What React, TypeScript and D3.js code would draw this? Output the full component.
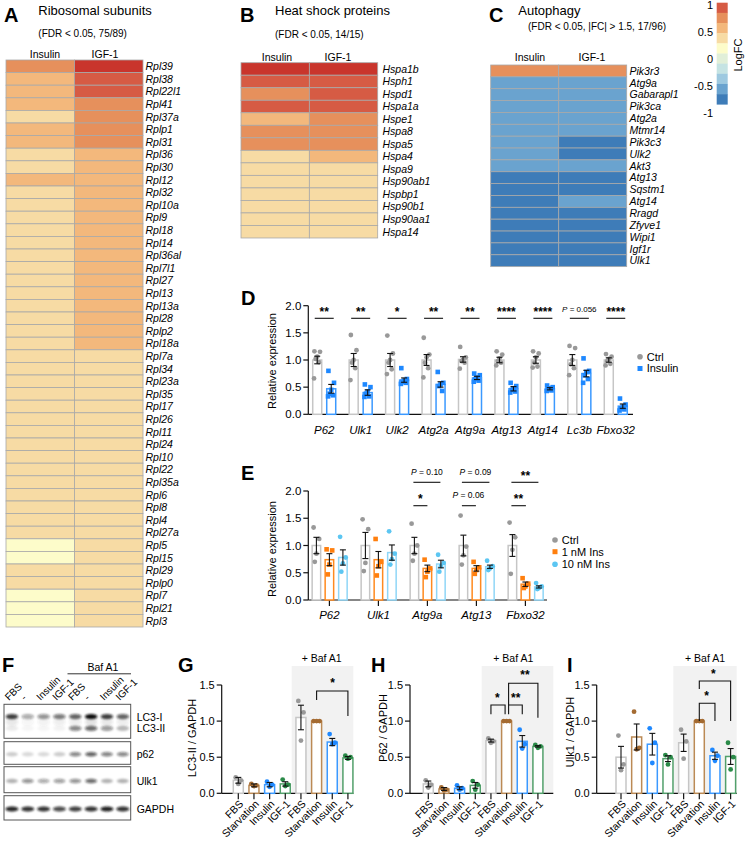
import React from "react";
import * as d3 from "d3";

const FONT = '"Liberation Sans", Arial, Helvetica, sans-serif';

// ---------------- Heatmap data (logFC) ----------------
const heatCols = ["Insulin", "IGF-1"];
const genesA = ["Rpl39","Rpl38","Rpl22l1","Rpl41","Rpl37a","Rplp1","Rpl31","Rpl36","Rpl30","Rpl12","Rpl32","Rpl10a","Rpl9","Rpl18","Rpl14","Rpl36al","Rpl7l1","Rpl27","Rpl13","Rpl13a","Rpl28","Rplp2","Rpl18a","Rpl7a","Rpl34","Rpl23a","Rpl35","Rpl17","Rpl26","Rpl11","Rpl24","Rpl10","Rpl22","Rpl35a","Rpl6","Rpl8","Rpl4","Rpl27a","Rpl5","Rpl15","Rpl29","Rplp0","Rpl7","Rpl21","Rpl3"];
const insulinA = [0.68,0.52,0.5,0.48,0.36,0.46,0.44,0.34,0.32,0.42, 0.32,0.3,0.3,0.28,0.3,0.28,0.26,0.3,0.28,0.26,0.28,0.26,0.3, 0.3,0.28,0.26,0.28,0.26,0.24,0.28,0.26,0.24,0.26,0.24,0.26,0.24,0.22,0.24, 0.16,0.18,0.24,0.22,0.16,0.14,0.18];
const igfA = [1.08,0.88,0.86,0.72,0.7,0.7,0.66,0.56,0.54,0.52, 0.52,0.5,0.5,0.48,0.5,0.46,0.48,0.46,0.46,0.44,0.44,0.42,0.42, 0.38,0.36,0.36,0.34,0.36,0.34,0.32,0.34,0.32,0.3,0.32,0.3,0.3,0.28,0.3, 0.28,0.26,0.3,0.28,0.26,0.24,0.26];

const genesB = ["Hspa1b","Hsph1","Hspd1","Hspa1a","Hspe1","Hspa8","Hspa5","Hspa4","Hspa9","Hsp90ab1","Hspbp1","Hsp90b1","Hsp90aa1","Hspa14"];
const insulinB = [1.12,0.88,0.72,0.9,0.55,0.7,0.68,0.34,0.32,0.3,0.28,0.3,0.26,0.24];
const igfB = [1.1,0.9,0.86,0.88,0.7,0.68,0.66,0.5,0.34,0.32,0.3,0.3,0.28,0.26];

const genesC = ["Pik3r3","Atg9a","Gabarapl1","Pik3ca","Atg2a","Mtmr14","Pik3c3","Ulk2","Akt3","Atg13","Sqstm1","Atg14","Rragd","Zfyve1","Wipi1","Igf1r","Ulk1"];
const insulinC = [0.7,-0.7,-0.68,-0.66,-0.7,-0.64,-0.66,-0.68,-0.7,-0.88,-0.9,-0.86,-0.92,-0.88,-0.9,-0.86,-0.9];
const igfC = [0.68,-0.66,-0.7,-0.68,-0.66,-0.7,-0.9,-0.88,-0.72,-0.9,-0.88,-0.7,-0.9,-0.92,-0.86,-0.88,-0.92];

const colorThresholds = [-0.8,-0.6,-0.4,-0.2,0,0.2,0.4,0.6,0.8,1.0];
const colorRange = ["#3e7cb8","#6aa3cf","#9ec9e0","#c5e3e3","#e1efd8","#fdfcca","#f7dba4","#f3b87c","#e6905c","#d65b44","#c9352c"];
const legendTicks = [1, 0.5, 0, -0.5, -1];

// ---------------- Panel D data ----------------
const genesD = ["P62","Ulk1","Ulk2","Atg2a","Atg9a","Atg13","Atg14","Lc3b","Fbxo32"];
const ctrlMeanD = [1.0,1.0,1.0,1.0,1.01,1.0,1.0,1.0,1.0];
const ctrlSemD = [0.07,0.12,0.12,0.1,0.05,0.05,0.06,0.1,0.04];
const insMeanD = [0.47,0.4,0.63,0.55,0.67,0.47,0.47,0.75,0.15];
const insSemD = [0.08,0.05,0.04,0.05,0.03,0.04,0.02,0.06,0.04];
const ctrlPtsD = [
  [1.16,1.15,1.06,1.02,0.96,0.66],
  [1.46,1.18,1.0,0.95,0.85,0.63],
  [1.45,1.12,1.0,0.95,0.83,0.74],
  [1.41,1.1,1.05,0.95,0.85,0.68],
  [1.24,1.05,1.0,0.98,0.95,0.84],
  [1.16,1.1,1.03,0.98,0.95,0.9],
  [1.16,1.12,1.05,0.95,0.88,0.86],
  [1.26,1.22,1.0,0.92,0.85,0.72],
  [1.11,1.06,1.02,0.98,0.93,0.9],
];
const insPtsD = [
  [0.8,0.58,0.45,0.38,0.35,0.33],
  [0.55,0.5,0.42,0.38,0.33,0.32],
  [0.85,0.65,0.62,0.6,0.58,0.56],
  [0.78,0.58,0.55,0.52,0.43],
  [0.75,0.72,0.68,0.65,0.62,0.6],
  [0.58,0.52,0.48,0.45,0.42,0.4],
  [0.53,0.5,0.48,0.46,0.44,0.43],
  [1.03,0.8,0.78,0.72,0.65,0.58],
  [0.29,0.18,0.14,0.11,0.09,0.07],
];
const sigD = ["**","**","*","**","**","****","****","P = 0.056","****"];
const yTicksD = [0, 0.5, 1, 1.5, 2];

// ---------------- Panel E data ----------------
const genesE = ["P62","Ulk1","Atg9a","Atg13","Fbxo32"];
const ctrlMeanE = [1.0,1.0,1.0,1.0,1.0];
const ctrlSemE = [0.15,0.24,0.15,0.19,0.2];
const ins1MeanE = [0.74,0.74,0.58,0.58,0.29];
const ins1SemE = [0.11,0.15,0.06,0.05,0.04];
const ins10MeanE = [0.78,0.87,0.66,0.61,0.24];
const ins10SemE = [0.14,0.14,0.07,0.03,0.02];
const ctrlPtsE = [[1.33,1.12,0.85,0.7],[1.48,1.3,0.68,0.53],[1.4,1.0,0.85,0.72],[1.55,0.98,0.82,0.65],[1.42,1.15,0.92,0.48]];
const ins1PtsE = [[0.93,0.91,0.65,0.47],[1.12,0.7,0.62,0.45],[0.74,0.58,0.52,0.42],[0.7,0.6,0.55,0.48],[0.4,0.3,0.25,0.22]];
const ins10PtsE = [[1.16,0.78,0.67,0.52],[1.26,0.85,0.75,0.65],[0.83,0.68,0.62,0.52],[0.72,0.62,0.58,0.55],[0.31,0.25,0.22,0.2]];

// ---------------- Panels G, H, I data ----------------
const conditions = ["FBS","Starvation","Insulin","IGF-1","FBS","Starvation","Insulin","IGF-1"];
const meanG = [0.18,0.11,0.12,0.13,1.05,1.0,0.71,0.49];
const semG = [0.04,0.02,0.03,0.03,0.17,0,0.05,0.02];
const ptsG = [[0.22,0.18,0.13],[0.13,0.11,0.1],[0.16,0.12,0.09],[0.19,0.12,0.1],[1.28,1.12,0.73],[1.0,1.0,1.0],[0.82,0.7,0.68],[0.52,0.5,0.48]];
const meanH = [0.13,0.06,0.07,0.11,0.73,1.0,0.72,0.65];
const semH = [0.04,0.02,0.02,0.04,0.02,0,0.08,0.01];
const ptsH = [[0.18,0.12,0.08],[0.08,0.05,0.04],[0.11,0.07,0.05],[0.17,0.12,0.05],[0.76,0.72,0.7],[1.0,1.0,1.0],[0.88,0.68,0.62],[0.67,0.65,0.63]];
const meanI = [0.5,0.78,0.68,0.48,0.7,1.0,0.52,0.51];
const semI = [0.15,0.18,0.15,0.04,0.12,0,0.05,0.11];
const ptsI = [[0.8,0.4,0.32],[1.13,0.63,0.61],[0.9,0.7,0.42],[0.53,0.5,0.4],[0.88,0.72,0.48],[1.0,1.0,1.0],[0.6,0.52,0.45],[0.7,0.5,0.33]];
const yTicksG = [0, 0.5, 1, 1.5];

// ---------------- Panel F (western blot) data ----------------
const laneLabels = ["FBS","-","Insulin","IGF-1","FBS","-","Insulin","IGF-1"];
const lc3I = [0.8,0.35,0.45,0.55,0.65,1.0,0.8,0.65];
const lc3II = [0.08,0.04,0.04,0.05,0.5,0.62,0.42,0.28];
const p62Band = [0.2,0.15,0.15,0.2,0.5,0.65,0.52,0.5];
const ulk1Band = [0.3,0.45,0.35,0.4,0.45,0.62,0.3,0.3];
const gapdhBand = [0.9,0.85,0.85,0.75,0.8,0.85,0.92,0.85];

const heatColor = d3.scaleThreshold<number, string>().domain(colorThresholds).range(colorRange);

const C = {
  ctrlBar: "#c6c6c6", ctrlPt: "#999999",
  insBar: "#3b99ff", insPt: "#1e88ff",
  ins1Bar: "#ff8a1f", ins1Pt: "#ff7f0e",
  ins10Bar: "#8fd6f7", ins10Pt: "#5cc6f2",
  starvBar: "#bb8a55", starvPt: "#a46b32",
  igfBar: "#52a06b", igfPt: "#2a8a48",
};
const condBar = [C.ctrlBar, C.starvBar, C.insBar, C.igfBar, C.ctrlBar, C.starvBar, C.insBar, C.igfBar];
const condPt = [C.ctrlPt, C.starvPt, C.insPt, C.igfPt, C.ctrlPt, C.starvPt, C.insPt, C.igfPt];

function Heatmap({ genes, ins, igf, left, right, top, rowH, labelX, headerX, headerY }: any) {
  const x = d3.scaleBand().domain(heatCols).range([left, right]);
  const y = d3.scaleBand().domain(genes).range([top, top + genes.length * rowH]);
  const vals = [ins, igf];
  return (
    <g>
      {heatCols.map((c, ci) => (
        <text key={c} x={headerX[ci]} y={headerY} textAnchor="middle" fontSize={10.5}>{c}</text>
      ))}
      {genes.map((g: string, gi: number) => (
        <g key={g}>
          {heatCols.map((c, ci) => (
            <rect key={c} x={x(c)} y={y(g)} width={x.bandwidth()} height={y.bandwidth()}
              fill={heatColor(vals[ci][gi])} stroke="#a9a9a9" strokeWidth={0.8} />
          ))}
          <text x={labelX} y={(y(g) as number) + y.bandwidth() / 2 + 3.8} fontSize={10.5} fontStyle="italic">{g}</text>
        </g>
      ))}
    </g>
  );
}

const offs6 = [-2.8, 2.8, 0, -1.6, 1.6, -3.2];
const offs3 = [-2.6, 2.6, 0];

function BarGroup({ cx, w, mean, sem, pts, y, stroke, pt, shape, cap = 3 }: any) {
  const y0 = y(0), ym = y(mean);
  const offs = pts.length <= 3 ? (mean === 1 && sem === 0 ? [-3, 0, 3] : offs3) : offs6;
  return (
    <g>
      <rect x={cx - w / 2} y={ym} width={w} height={y0 - ym} fill="white" stroke={stroke} strokeWidth={1.5} />
      {pts.map((v: number, i: number) =>
        shape === "square" ? (
          <rect key={i} x={cx + offs[i] - 2.3} y={y(v) - 2.3} width={4.6} height={4.6} fill={pt} />
        ) : (
          <circle key={i} cx={cx + offs[i]} cy={y(v)} r={2.4} fill={pt} />
        )
      )}
      {sem > 0 && (
        <g stroke="#111" strokeWidth={1.1}>
          <line x1={cx} x2={cx} y1={y(mean - sem)} y2={y(mean + sem)} />
          <line x1={cx - cap} x2={cx + cap} y1={y(mean - sem)} y2={y(mean - sem)} />
          <line x1={cx - cap} x2={cx + cap} y1={y(mean + sem)} y2={y(mean + sem)} />
        </g>
      )}
    </g>
  );
}

function YAxis({ x, y, ticks, fontSize = 11.5 }: any) {
  const fmt = d3.format(".1f");
  const [d0, d1] = y.domain();
  return (
    <g>
      <line x1={x} x2={x} y1={y(d0)} y2={y(d1)} stroke="#111" strokeWidth={1.2} />
      {ticks.map((t: number) => (
        <g key={t}>
          <line x1={x - 5} x2={x} y1={y(t)} y2={y(t)} stroke="#111" strokeWidth={1.2} />
          <text x={x - 7} y={y(t) + 4} textAnchor="end" fontSize={fontSize}>{fmt(t)}</text>
        </g>
      ))}
    </g>
  );
}

function Star({ x, cy, text, size = 12 }: any) {
  return <text x={x} y={cy + size * 0.55} textAnchor="middle" fontSize={size} fontWeight="bold">{text}</text>;
}

function PText({ x, cy, value, size = 8.5 }: any) {
  return (
    <text x={x} y={cy + 3} textAnchor="middle" fontSize={size}>
      <tspan fontStyle="italic">P</tspan> = {value}
    </text>
  );
}

function PanelD() {
  const x = d3.scaleBand().domain(genesD).range([306, 634]);
  const y = d3.scaleLinear().domain([0, 2]).range([414.3, 305.7]);
  const bw = x.bandwidth();
  return (
    <g>
      <YAxis x={308.3} y={y} ticks={yTicksD} />
      <line x1={308.3} x2={633} y1={y(0)} y2={y(0)} stroke="#111" strokeWidth={1.2} />
      <text transform="translate(275.5,361) rotate(-90)" textAnchor="middle" fontSize={11}>Relative expression</text>
      {genesD.map((g, i) => {
        const c = (x(g) as number) + bw / 2;
        return (
          <g key={g}>
            <BarGroup cx={c - 7} w={9} mean={ctrlMeanD[i]} sem={ctrlSemD[i]} pts={ctrlPtsD[i]} y={y} stroke={C.ctrlBar} pt={C.ctrlPt} shape="circle" />
            <BarGroup cx={c + 7} w={9} mean={insMeanD[i]} sem={insSemD[i]} pts={insPtsD[i]} y={y} stroke={C.insBar} pt={C.insPt} shape="square" />
            <text x={c} y={434} textAnchor="middle" fontSize={11.5} fontStyle="italic">{g}</text>
            <line x1={c - 9.5} x2={c + 9.5} y1={318.3} y2={318.3} stroke="#111" strokeWidth={1.1} />
            {sigD[i].startsWith("P") ? (
              <PText x={c} cy={309} value="0.056" size={8} />
            ) : (
              <Star x={c} cy={309} text={sigD[i]} />
            )}
          </g>
        );
      })}
      <circle cx={640} cy={356.7} r={2.8} fill={C.ctrlPt} />
      <text x={646.7} y={360.6} fontSize={11}>Ctrl</text>
      <rect x={637.5} y={366} width={5} height={5} fill={C.insPt} />
      <text x={646.7} y={372.3} fontSize={11}>Insulin</text>
    </g>
  );
}

function PanelE() {
  const x = d3.scaleBand().domain(genesE).range([304.9, 549.9]);
  const y = d3.scaleLinear().domain([0, 2]).range([600, 491]);
  const bw = x.bandwidth();
  const cen = (g: string) => (x(g) as number) + bw / 2;
  const a = cen("Atg9a"), b = cen("Atg13"), f = cen("Fbxo32");
  const sigLines = [
    [a - 14, a, 505.7], [a - 14, a + 13, 482.3],
    [b - 14.5, b - 0.5, 505.7], [b - 14.5, b + 13, 482.3],
    [f - 14, f + 0.5, 505.7], [f - 14, f + 13, 482.3],
  ];
  return (
    <g>
      <YAxis x={308.3} y={y} ticks={yTicksD} />
      <line x1={308.3} x2={547} y1={y(0)} y2={y(0)} stroke="#111" strokeWidth={1.2} />
      <text transform="translate(275.5,549) rotate(-90)" textAnchor="middle" fontSize={11}>Relative expression</text>
      {genesE.map((g, i) => {
        const c = cen(g);
        return (
          <g key={g}>
            <line x1={c} x2={c} y1={y(0)} y2={y(0) + 6} stroke="#111" strokeWidth={1.2} />
            <BarGroup cx={c - 13} w={8.5} mean={ctrlMeanE[i]} sem={ctrlSemE[i]} pts={ctrlPtsE[i]} y={y} stroke={C.ctrlBar} pt={C.ctrlPt} shape="circle" />
            <BarGroup cx={c} w={8.5} mean={ins1MeanE[i]} sem={ins1SemE[i]} pts={ins1PtsE[i]} y={y} stroke={C.ins1Bar} pt={C.ins1Pt} shape="square" />
            <BarGroup cx={c + 13.5} w={8.5} mean={ins10MeanE[i]} sem={ins10SemE[i]} pts={ins10PtsE[i]} y={y} stroke={C.ins10Bar} pt={C.ins10Pt} shape="circle" />
            <text x={c} y={619} textAnchor="middle" fontSize={11.5} fontStyle="italic">{g}</text>
          </g>
        );
      })}
      {sigLines.map((l, k) => (
        <line key={k} x1={l[0]} x2={l[1]} y1={l[2]} y2={l[2]} stroke="#111" strokeWidth={1.1} />
      ))}
      <Star x={a - 7} cy={496} text="*" />
      <PText x={a - 0.5} cy={472} value="0.10" />
      <PText x={b - 8} cy={495} value="0.06" />
      <PText x={b - 1} cy={472} value="0.09" />
      <Star x={f - 7} cy={496} text="**" />
      <Star x={f} cy={473} text="**" />
      <circle cx={555} cy={540} r={2.8} fill={C.ctrlPt} />
      <text x={561.7} y={543.9} fontSize={11}>Ctrl</text>
      <rect x={552.5} y={549.2} width={5} height={5} fill={C.ins1Pt} />
      <text x={561.7} y={555.6} fontSize={11}>1 nM Ins</text>
      <circle cx={555} cy={564.3} r={2.8} fill={C.ins10Pt} />
      <text x={561.7} y={568.2} fontSize={11}>10 nM Ins</text>
    </g>
  );
}

function QuantPanel({ firstC, axisX, axisEnd, boxLeft, means, sems, pts, yLabel, yLabelX, yLabelY, brackets, stars, bafX }: any) {
  const step = 15.66;
  const x = d3.scaleBand().domain(d3.range(8).map(String)).range([firstC - step / 2, firstC - step / 2 + step * 8]);
  const y = d3.scaleLinear().domain([0, 1.5]).range([793.3, 685]);
  const cx = (i: number) => (x(String(i)) as number) + x.bandwidth() / 2;
  return (
    <g>
      <rect x={boxLeft} y={666} width={axisEnd - boxLeft} height={y(0) - 666} fill="#f2f2f2" />
      <text x={bafX} y={662} textAnchor="middle" fontSize={10.5}>+ Baf A1</text>
      <YAxis x={axisX} y={y} ticks={yTicksG} fontSize={11} />
      <line x1={axisX} x2={axisEnd} y1={y(0)} y2={y(0)} stroke="#111" strokeWidth={1.2} />
      <text transform={`translate(${yLabelX},${yLabelY}) rotate(-90)`} textAnchor="middle" fontSize={11}>{yLabel}</text>
      {conditions.map((c, i) => (
        <g key={i}>
          <BarGroup cx={cx(i)} w={10} mean={means[i]} sem={sems[i]} pts={pts[i]} y={y} stroke={condBar[i]} pt={condPt[i]} shape="circle" />
          <line x1={cx(i)} x2={cx(i)} y1={y(0)} y2={y(0) + 6} stroke="#111" strokeWidth={1.2} />
          <text transform={`translate(${cx(i) + 3},${802}) rotate(-45)`} textAnchor="end" dy="0.35em" fontSize={10.5}>{c}</text>
        </g>
      ))}
      {brackets.map((b: any, k: number) => (
        <path key={k} d={`M${cx(b.a) + (b.da || 0)},${b.ya} V${b.top} H${cx(b.b) + (b.db || 0)} V${b.yb}`} fill="none" stroke="#111" strokeWidth={1.1} />
      ))}
      {stars.map((s: any, k: number) => (
        <Star key={k} x={s[0]} cy={s[1]} text={s[2]} />
      ))}
    </g>
  );
}

function Blot() {
  const lanes = d3.scaleBand().domain(d3.range(8).map(String)).range([4, 130.7]);
  const lc = (i: number) => (lanes(String(i)) as number) + lanes.bandwidth() / 2;
  const boxes = [
    [704.3, 738.3], [741.7, 764.3], [766.7, 792.7], [795.7, 820],
  ];
  const rows: [number[], number, number, number][] = [
    [lc3I, 716.7, 6.2, 2.6],
    [lc3II, 728.3, 6.2, 2.6],
    [p62Band, 754.3, 6, 2.2],
    [ulk1Band, 781, 6, 2.2],
    [gapdhBand, 809, 6.5, 2.4],
  ];
  return (
    <g>
      <defs>
        <filter id="blur" x="-50%" y="-100%" width="200%" height="300%">
          <feGaussianBlur stdDeviation="1.2" />
        </filter>
      </defs>
      <text x={103} y={671} textAnchor="middle" fontSize={10.5}>Baf A1</text>
      <line x1={67.5} x2={131} y1={673.8} y2={673.8} stroke="#333" strokeWidth={1} />
      {laneLabels.map((l, i) => (
        <text key={i} transform={`translate(${lc(i) - 3},${701}) rotate(-45)`} fontSize={10}>{l}</text>
      ))}
      {boxes.map((b, k) => (
        <rect key={k} x={4} y={b[0]} width={126.7} height={b[1] - b[0]} fill="white" stroke="#555" strokeWidth={1} />
      ))}
      <g filter="url(#blur)">
        {rows.map(([vals, yy, rx, ry], r) =>
          vals.map((v, i) => (
            <ellipse key={`${r}-${i}`} cx={lc(i)} cy={yy} rx={rx} ry={ry} fill="#111" opacity={v} />
          ))
        )}
        {lc3I.map((v, i) => (
          <ellipse key={`s${i}`} cx={lc(i)} cy={722} rx={6} ry={4} fill="#444" opacity={v * 0.15} />
        ))}
      </g>
      <text x={136.7} y={720.5} fontSize={10.5}>LC3-I</text>
      <text x={136.7} y={732} fontSize={10.5}>LC3-II</text>
      <text x={136.7} y={758} fontSize={10.5}>p62</text>
      <text x={136.7} y={784.7} fontSize={10.5}>Ulk1</text>
      <text x={136.7} y={812.7} fontSize={10.5}>GAPDH</text>
    </g>
  );
}

const panelLetters: [string, number, number][] = [["A", 4, 21.7], ["B", 240, 21.7], ["C", 489, 21.7], ["D", 241, 305], ["E", 241, 480], ["F", 2, 672], ["G", 178, 672], ["H", 371, 672], ["I", 567, 672]];

export default function App() {
  const legendColors = colorRange.slice(0, 10).reverse();
  const binH = (104.3 - 2.7) / 10;
  return (
    <svg width={745} height={846} style={{ position: "absolute", left: 0, top: 0, background: "#fff" }} fontFamily={FONT}>
      {panelLetters.map(([t, x, y]) => (
        <text key={t} x={x} y={y} fontSize={20} fontWeight="bold">{t}</text>
      ))}

      <text x={38.3} y={14.8} fontSize={13}>Ribosomal subunits</text>
      <text x={38.3} y={37} fontSize={10}>(FDR &lt; 0.05, 75/89)</text>
      <text x={275} y={14.8} fontSize={13}>Heat shock proteins</text>
      <text x={275} y={37.5} fontSize={10}>(FDR &lt; 0.05, 14/15)</text>
      <text x={518.3} y={14.8} fontSize={13}>Autophagy</text>
      <text x={528} y={29.5} fontSize={10}>(FDR &lt; 0.05, |FC| &gt; 1.5, 17/96)</text>

      <Heatmap genes={genesA} ins={insulinA} igf={igfA} left={6} right={143} top={60} rowH={12.6} labelX={145.5} headerX={[45, 105]} headerY={57.8} />
      <Heatmap genes={genesB} ins={insulinB} igf={igfB} left={241} right={377.7} top={62.7} rowH={12.52} labelX={382.5} headerX={[277, 338]} headerY={60.5} />
      <Heatmap genes={genesC} ins={insulinC} igf={igfC} left={490.7} right={626.7} top={65} rowH={11.86} labelX={629.5} headerX={[530, 592]} headerY={61} />

      {legendColors.map((c, i) => (
        <rect key={i} x={716.7} y={2.7 + i * binH} width={11} height={binH + 0.3} fill={c} />
      ))}
      {legendTicks.map((t, i) => (
        <text key={t} x={713} y={5 + i * 27 + 3.8} textAnchor="end" fontSize={11}>{String(t)}</text>
      ))}
      <text transform="translate(742,55) rotate(-90)" textAnchor="middle" fontSize={11}>LogFC</text>

      <PanelD />
      <PanelE />
      <Blot />

      <QuantPanel firstC={238.3} axisX={221.7} axisEnd={353.3} boxLeft={291.7} means={meanG} sems={semG} pts={ptsG}
        yLabel="LC3-II / GAPDH" yLabelX={195.5} yLabelY={738} bafX={321.7}
        brackets={[{ a: 5, b: 7, top: 691, ya: 700, yb: 716 }]}
        stars={[[332.7, 680, "*"]]} />
      <QuantPanel firstC={428.3} axisX={410} axisEnd={553.3} boxLeft={481.7} means={meanH} sems={semH} pts={ptsH}
        yLabel="P62 / GAPDH" yLabelX={387} yLabelY={728} bafX={513.3}
        brackets={[
          { a: 4, b: 5, db: -1.5, top: 705, ya: 714.3, yb: 714.3 },
          { a: 5, da: 2, b: 6, top: 705, ya: 714.3, yb: 714.3 },
          { a: 5, da: 2, b: 7, top: 683.3, ya: 705, yb: 717.7 },
        ]}
        stars={[[497.3, 695, "*"], [515.7, 695, "**"], [525, 672, "**"]]} />
      <QuantPanel firstC={621} axisX={596.7} axisEnd={736.7} boxLeft={673.3} means={meanI} sems={semI} pts={ptsI}
        yLabel="Ulk1 / GAPDH" yLabelX={574} yLabelY={732} bafX={705}
        brackets={[
          { a: 5, b: 6, top: 703.3, ya: 721, yb: 721 },
          { a: 5, b: 7, top: 681, ya: 689, yb: 721 },
        ]}
        stars={[[706.7, 693.5, "*"], [713.3, 671, "*"]]} />
    </svg>
  );
}
